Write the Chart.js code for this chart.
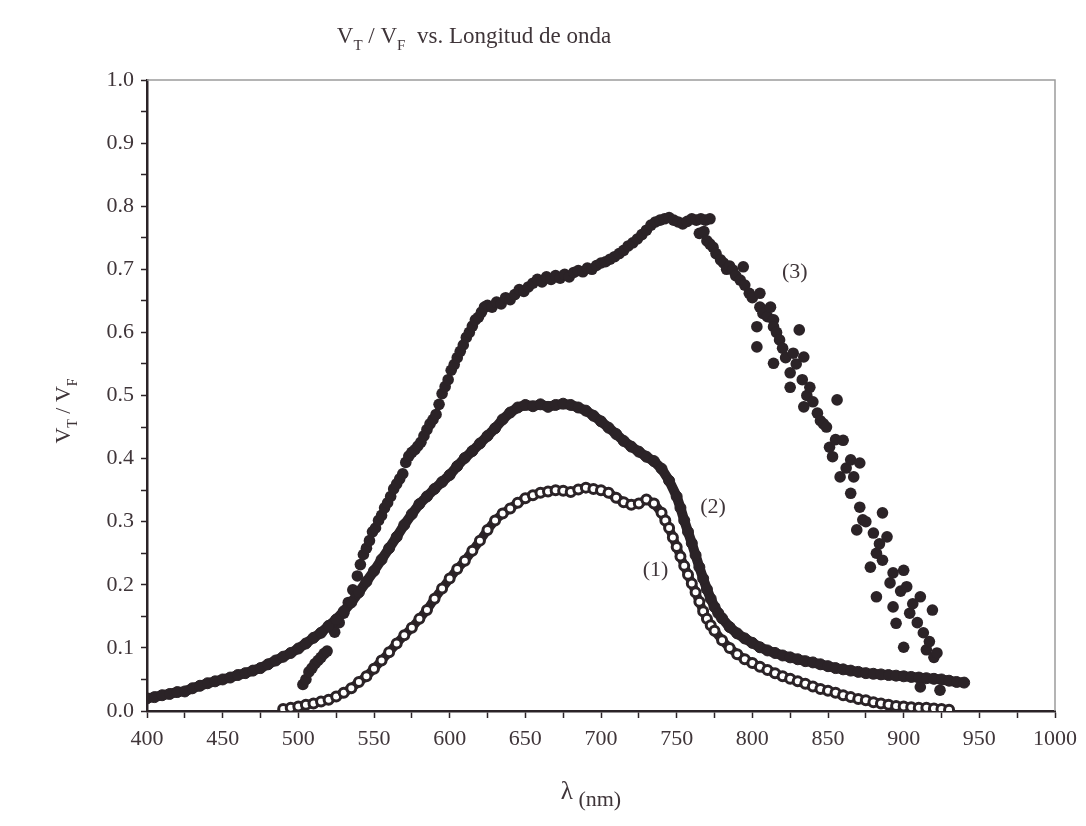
<!DOCTYPE html>
<html>
<head>
<meta charset="utf-8">
<title>VT / VF vs. Longitud de onda</title>
<script src="https://cdn.jsdelivr.net/npm/chart.js@4.4.1/dist/chart.umd.min.js"></script>
<style>
  body { margin: 0; background: #ffffff; }
  #wrap { width: 1086px; height: 826px; }
</style>
</head>
<body>
<div id="wrap"><canvas id="ratioChart" width="1086" height="826"></canvas></div>
<script>
// [wavelength nm, VT/VF]
const curve1 = [
  [490, 0.003], [495, 0.005], [500, 0.007], [505, 0.010], [510, 0.012], [515, 0.015], [520, 0.018],
  [525, 0.023], [530, 0.029], [535, 0.036], [540, 0.046], [545, 0.055], [550, 0.067], [555, 0.080],
  [560, 0.093], [565, 0.107], [570, 0.120], [575, 0.132], [580, 0.146], [585, 0.160], [590, 0.178],
  [595, 0.194], [600, 0.210], [605, 0.225], [610, 0.238], [615, 0.254], [620, 0.270], [625, 0.287],
  [630, 0.302], [635, 0.313], [640, 0.321], [645, 0.330], [650, 0.337], [655, 0.342], [660, 0.346],
  [665, 0.348], [670, 0.350], [675, 0.349], [680, 0.347], [685, 0.351], [690, 0.354], [695, 0.352],
  [700, 0.350], [705, 0.346], [710, 0.338], [715, 0.331], [720, 0.327], [725, 0.329], [730, 0.335],
  [735, 0.329], [740, 0.314], [742.5, 0.302], [745, 0.290], [747.5, 0.275], [750, 0.260], [752.5, 0.245],
  [755, 0.230], [757.5, 0.216], [760, 0.202], [762.5, 0.188], [765, 0.173], [767.5, 0.158], [770, 0.146],
  [772.5, 0.136], [775, 0.127], [780, 0.112], [785, 0.100], [790, 0.090], [795, 0.082], [800, 0.076],
  [805, 0.070], [810, 0.065], [815, 0.060], [820, 0.055], [825, 0.051], [830, 0.047], [835, 0.043],
  [840, 0.039], [845, 0.035], [850, 0.032], [855, 0.029], [860, 0.025], [865, 0.022], [870, 0.019],
  [875, 0.017], [880, 0.014], [885, 0.012], [890, 0.010], [895, 0.008], [900, 0.007], [905, 0.006],
  [910, 0.005], [915, 0.005], [920, 0.004], [925, 0.003], [930, 0.002]
];

const curve2 = [
  [400, 0.020], [405, 0.022], [410, 0.025], [415, 0.027], [420, 0.030], [425, 0.031], [430, 0.036],
  [435, 0.040], [440, 0.044], [445, 0.047], [450, 0.050], [455, 0.053], [460, 0.057], [465, 0.060],
  [470, 0.064], [475, 0.068], [480, 0.074], [485, 0.080], [490, 0.086], [495, 0.092], [500, 0.099],
  [505, 0.107], [510, 0.116], [515, 0.124], [520, 0.135], [525, 0.145], [530, 0.158], [535, 0.172],
  [540, 0.188], [545, 0.205], [550, 0.222], [555, 0.240], [560, 0.258], [565, 0.276], [570, 0.295],
  [575, 0.312], [580, 0.328], [585, 0.340], [590, 0.352], [595, 0.363], [600, 0.374], [605, 0.388],
  [610, 0.401], [615, 0.412], [620, 0.424], [625, 0.436], [630, 0.448], [635, 0.462], [640, 0.473],
  [645, 0.481], [650, 0.485], [655, 0.483], [660, 0.486], [665, 0.482], [670, 0.485], [675, 0.487],
  [680, 0.485], [685, 0.481], [690, 0.476], [695, 0.468], [700, 0.459], [705, 0.449], [710, 0.439],
  [715, 0.428], [720, 0.419], [725, 0.411], [730, 0.403], [735, 0.396], [740, 0.384], [745, 0.365],
  [750, 0.340], [752.5, 0.322], [755, 0.302], [757.5, 0.284], [760, 0.266], [762.5, 0.247], [765, 0.228],
  [767.5, 0.210], [770, 0.193], [772.5, 0.178], [775, 0.165], [777.5, 0.155], [780, 0.147], [785, 0.133],
  [790, 0.123], [795, 0.115], [800, 0.108], [805, 0.101], [810, 0.096], [815, 0.092], [820, 0.088],
  [825, 0.085], [830, 0.082], [835, 0.079], [840, 0.077], [845, 0.074], [850, 0.071], [855, 0.068],
  [860, 0.066], [865, 0.064], [870, 0.062], [875, 0.060], [880, 0.059], [885, 0.058], [890, 0.057],
  [895, 0.056], [900, 0.055], [905, 0.054], [910, 0.053], [915, 0.052], [920, 0.051], [925, 0.050],
  [930, 0.048], [935, 0.046], [940, 0.045]
];

const curve3 = [
  [503, 0.042], [505, 0.050], [507, 0.062], [509, 0.068], [511, 0.075], [513, 0.080], [515, 0.085],
  [517, 0.091], [519, 0.095], [524, 0.125], [527, 0.140], [530, 0.155], [533, 0.172], [536, 0.192],
  [539, 0.214], [541, 0.232], [543, 0.248], [545, 0.258], [547, 0.270], [549, 0.284], [551, 0.290],
  [553, 0.302], [555, 0.310], [557, 0.322], [559, 0.330], [561, 0.340], [563, 0.352], [565, 0.360],
  [567, 0.368], [569, 0.376], [571, 0.394], [573, 0.404], [575, 0.410], [577, 0.414], [579, 0.420],
  [581, 0.426], [583, 0.436], [585, 0.446], [587, 0.455], [589, 0.462], [591, 0.470], [593, 0.486],
  [595, 0.503], [597, 0.514], [599, 0.525], [601, 0.540], [603, 0.549], [605, 0.560], [607, 0.570],
  [609, 0.580], [611, 0.592], [613, 0.600], [615, 0.610], [617, 0.620], [619, 0.624], [621, 0.632],
  [623, 0.640], [625, 0.643], [628, 0.640], [631, 0.648], [634, 0.645], [637, 0.655], [640, 0.652],
  [643, 0.660], [646, 0.668], [649, 0.665], [652, 0.672], [655, 0.678], [658, 0.684], [661, 0.680],
  [664, 0.688], [667, 0.684], [670, 0.690], [673, 0.686], [676, 0.692], [679, 0.688], [682, 0.695],
  [685, 0.698], [688, 0.696], [691, 0.702], [694, 0.700], [697, 0.706], [700, 0.710], [703, 0.712],
  [706, 0.716], [709, 0.720], [712, 0.725], [715, 0.730], [718, 0.737], [721, 0.742], [724, 0.748],
  [727, 0.755], [730, 0.762], [733, 0.770], [736, 0.775], [739, 0.778], [742, 0.780], [745, 0.782],
  [748, 0.778], [751, 0.775], [754, 0.772], [757, 0.776], [760, 0.780], [763, 0.778], [766, 0.780],
  [769, 0.778], [772, 0.780],
  // scattered tail
  [765, 0.757], [768, 0.760], [770, 0.745], [772, 0.740], [774, 0.735], [776, 0.725], [779, 0.715],
  [781, 0.710], [783, 0.700], [785, 0.705], [787, 0.699], [789, 0.690], [792, 0.683], [794, 0.704],
  [795, 0.675], [798, 0.662], [800, 0.655], [803, 0.609], [803, 0.577], [805, 0.662], [805, 0.640],
  [807, 0.630], [810, 0.625], [812, 0.640], [814, 0.620], [814, 0.609], [814, 0.551], [816, 0.600],
  [818, 0.588], [820, 0.575], [822, 0.560], [825, 0.536], [825, 0.513], [827, 0.567], [829, 0.550],
  [831, 0.604], [833, 0.525], [834, 0.561], [834, 0.482], [836, 0.500], [838, 0.513], [840, 0.490],
  [843, 0.472], [845, 0.460], [847, 0.455], [849, 0.450], [851, 0.418], [853, 0.403], [855, 0.430],
  [856, 0.493], [858, 0.371], [860, 0.429], [862, 0.385], [865, 0.398], [865, 0.345], [867, 0.371],
  [869, 0.287], [871, 0.393], [871, 0.323], [873, 0.303], [875, 0.300], [878, 0.228], [880, 0.282],
  [882, 0.250], [882, 0.181], [884, 0.265], [886, 0.314], [886, 0.239], [889, 0.276], [891, 0.203],
  [893, 0.219], [893, 0.165], [895, 0.139], [898, 0.190], [900, 0.223], [900, 0.101], [902, 0.197],
  [904, 0.155], [906, 0.170], [909, 0.140], [911, 0.181], [911, 0.038], [913, 0.124], [915, 0.097],
  [917, 0.110], [919, 0.160], [920, 0.085], [922, 0.092], [924, 0.033]
];

// curve tags, anchored in data units
const curveTags = [
  { text: "(1)", x: 736, y: 0.227 },
  { text: "(2)", x: 774, y: 0.326 },
  { text: "(3)", x: 828, y: 0.699 }
];

const ink = "#2b2327";
const textColor = "#3f3539";
const serif = "'Liberation Serif', 'DejaVu Serif', serif";

const toXY = arr => arr.map(p => ({ x: p[0], y: p[1] }));

// draws a run of text parts, some of them as subscripts
function drawParts(ctx, parts, x, y, size, subSize, align) {
  let total = 0;
  parts.forEach(p => {
    ctx.font = (p.sub ? subSize : (p.size || size)) + "px " + serif;
    p.w = ctx.measureText(p.t).width;
    total += p.w;
  });
  let cx = align === "center" ? x - total / 2 : x;
  parts.forEach(p => {
    ctx.font = (p.sub ? subSize : (p.size || size)) + "px " + serif;
    ctx.fillText(p.t, cx, p.sub ? y + 7 : y);
    cx += p.w;
  });
}

const decorations = {
  id: "decorations",
  afterDraw(chart) {
    const ctx = chart.ctx;
    const a = chart.chartArea;
    const xs = chart.scales.x;
    const ys = chart.scales.y;
    ctx.save();

    // light frame on top and right
    ctx.strokeStyle = "#9c9c9c";
    ctx.lineWidth = 1.5;
    ctx.beginPath();
    ctx.moveTo(a.left, a.top);
    ctx.lineTo(a.right, a.top);
    ctx.lineTo(a.right, a.bottom);
    ctx.stroke();

    ctx.fillStyle = textColor;
    ctx.textBaseline = "alphabetic";
    ctx.textAlign = "left";

    // title
    drawParts(ctx, [
      { t: "V" }, { t: "T", sub: true }, { t: " / " }, { t: "V" }, { t: "F", sub: true },
      { t: "  vs. Longitud de onda" }
    ], 474, 43, 23, 15, "center");

    // x axis title
    drawParts(ctx, [{ t: "λ", size: 25 }, { t: " (nm)", sub: true }], 591, 799, 22, 22, "center");

    // y axis title
    ctx.save();
    ctx.translate(70, 411);
    ctx.rotate(-Math.PI / 2);
    drawParts(ctx, [
      { t: "V" }, { t: "T", sub: true }, { t: " / " }, { t: "V" }, { t: "F", sub: true }
    ], 0, 0, 22, 14, "center");
    ctx.restore();

    // curve tags
    ctx.font = "22px " + serif;
    ctx.textAlign = "center";
    curveTags.forEach(tag => {
      ctx.fillText(tag.text, xs.getPixelForValue(tag.x), ys.getPixelForValue(tag.y) + 8);
    });
    ctx.restore();
  }
};

const ctxRatio = document.getElementById("ratioChart").getContext("2d");

const ratioChart = new Chart(ctxRatio, {
  type: "scatter",
  data: {
    datasets: [
      {
        label: "(1)",
        data: toXY(curve1),
        showLine: true,
        borderColor: ink,
        borderWidth: 9,
        pointRadius: 4.5,
        pointBorderWidth: 3,
        pointBorderColor: ink,
        pointBackgroundColor: "#ffffff"
      },
      {
        label: "(2)",
        data: toXY(curve2),
        showLine: true,
        borderColor: ink,
        borderWidth: 10,
        pointRadius: 5.5,
        pointBorderWidth: 1,
        pointBorderColor: ink,
        pointBackgroundColor: ink
      },
      {
        label: "(3)",
        data: toXY(curve3),
        showLine: false,
        pointRadius: 5.8,
        pointBorderWidth: 0,
        pointBackgroundColor: ink,
        pointBorderColor: ink
      }
    ]
  },
  options: {
    responsive: false,
    animation: false,
    layout: { padding: { top: 80, right: 31, bottom: 0, left: 0 } },
    plugins: {
      legend: { display: false },
      tooltip: { enabled: false },
      title: { display: false }
    },
    scales: {
      x: {
        type: "linear",
        min: 400,
        max: 1000,
        afterFit: scale => { scale.height = 115; },
        ticks: {
          stepSize: 25,
          autoSkip: false,
          maxRotation: 0,
          padding: 8,
          color: textColor,
          font: { family: serif, size: 22 },
          callback: v => (v % 50 === 0 ? String(v) : "")
        },
        grid: { drawOnChartArea: false, drawTicks: true, tickLength: 7, tickColor: ink, tickWidth: 1.5 },
        border: { display: true, color: ink, width: 2.5 }
      },
      y: {
        type: "linear",
        min: 0,
        max: 1,
        afterFit: scale => { scale.width = 147; },
        ticks: {
          stepSize: 0.05,
          autoSkip: false,
          padding: 7,
          color: textColor,
          font: { family: serif, size: 22 },
          callback: v => (Math.round(v * 100) % 10 === 0 ? v.toFixed(1) : "")
        },
        grid: { drawOnChartArea: false, drawTicks: true, tickLength: 6, tickColor: ink, tickWidth: 1.5 },
        border: { display: true, color: ink, width: 2.5 }
      }
    }
  },
  plugins: [decorations]
});
</script>
</body>
</html>
